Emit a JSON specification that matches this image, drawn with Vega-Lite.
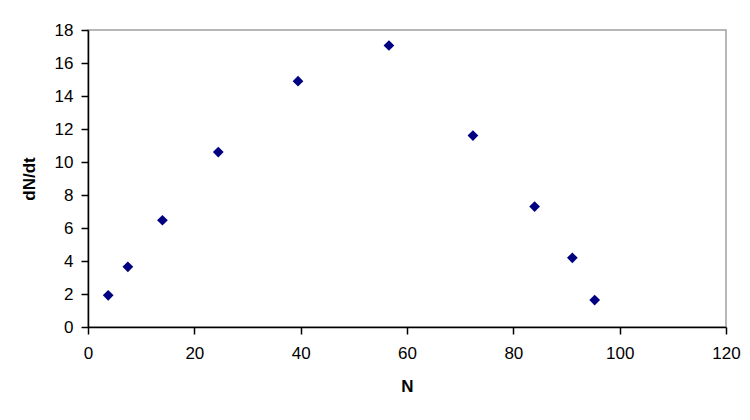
{
  "$schema": "https://vega.github.io/schema/vega-lite/v6.json",
  "autosize": "none",
  "padding": {"left": 88, "top": 30, "right": 24, "bottom": 93},
  "width": 638,
  "height": 297,
  "background": "white",
  "config": {
    "view": {"stroke": "#a0a0a0", "strokeWidth": 1.5},
    "font": "Liberation Sans"
  },
  "data": {
    "values": [
      {"N": 3.8, "dNdt": 1.92},
      {"N": 7.5, "dNdt": 3.65},
      {"N": 14.0, "dNdt": 6.47},
      {"N": 24.5, "dNdt": 10.6},
      {"N": 39.5, "dNdt": 14.9},
      {"N": 56.6, "dNdt": 17.06},
      {"N": 72.4, "dNdt": 11.6},
      {"N": 84.0, "dNdt": 7.3},
      {"N": 91.1, "dNdt": 4.19},
      {"N": 95.3, "dNdt": 1.63}
    ]
  },
  "mark": {"type": "point", "shape": "diamond", "filled": true, "size": 115, "color": "#000080", "opacity": 1},
  "encoding": {
    "x": {
      "field": "N", "type": "quantitative", "title": "N",
      "scale": {"domain": [0, 120], "nice": false, "zero": true},
      "axis": {
        "values": [0, 20, 40, 60, 80, 100, 120],
        "grid": false, "domainColor": "black", "domainWidth": 1.5,
        "tickColor": "black", "tickWidth": 1.5, "tickSize": 7,
        "labelFlush": false, "labelOverlap": false,
        "labelFont": "Liberation Sans", "labelFontSize": 17, "labelColor": "black", "labelPadding": 11,
        "titleFont": "Liberation Sans", "titleFontSize": 17, "titleFontWeight": "bold", "titleColor": "black", "titlePadding": 17
      }
    },
    "y": {
      "field": "dNdt", "type": "quantitative", "title": "dN/dt",
      "scale": {"domain": [0, 18], "nice": false},
      "axis": {
        "values": [0, 2, 4, 6, 8, 10, 12, 14, 16, 18],
        "grid": false, "domainColor": "black", "domainWidth": 1.5,
        "tickColor": "black", "tickWidth": 1.5, "tickSize": 7,
        "labelFlush": false, "labelOverlap": false,
        "labelFont": "Liberation Sans", "labelFontSize": 17, "labelColor": "black", "labelPadding": 8,
        "titleFont": "Liberation Sans", "titleFontSize": 17, "titleFontWeight": "bold", "titleColor": "black", "titlePadding": 16
      }
    }
  }
}
